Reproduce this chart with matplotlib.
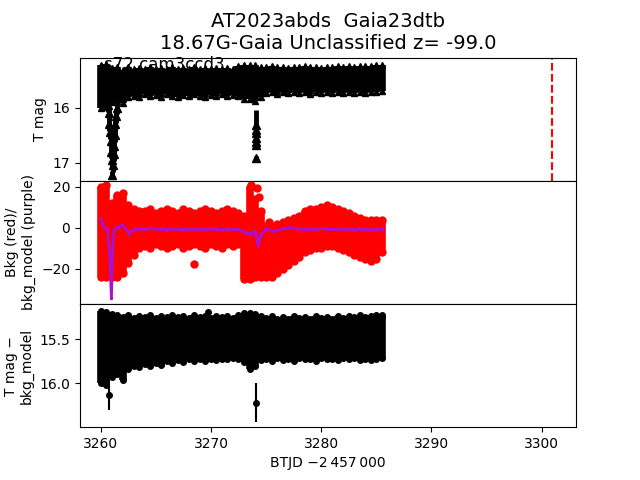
import matplotlib
matplotlib.use("Agg")
import matplotlib.pyplot as plt
import numpy as np

# ---- data ----
t_seg1 = [3260.0, 3260.5, 3261.0, 3261.5, 3262.0, 3262.5, 3263.0, 3263.5, 3264.0,
          3264.5, 3265.0, 3265.5, 3266.0, 3266.5, 3267.0, 3267.5, 3268.0, 3268.5,
          3269.0, 3269.5, 3270.0, 3270.5, 3271.0, 3271.5, 3272.0, 3272.5, 3273.0]
t_seg2 = [3273.5, 3274.0, 3274.5, 3275.0, 3275.5, 3276.0, 3276.5, 3277.0, 3277.5,
          3278.0, 3278.5, 3279.0, 3279.5, 3280.0, 3280.5, 3281.0, 3281.5, 3282.0,
          3282.5, 3283.0, 3283.5, 3284.0, 3284.5, 3285.0, 3285.5]

# top panel: T mag band (upper / lower envelope)
tmag_hi = [15.22, 15.21, 15.28, 15.27, 15.31, 15.27, 15.30, 15.28, 15.29, 15.27, 15.30, 15.28, 15.29,
           15.27, 15.30, 15.28, 15.29, 15.27, 15.30, 15.28, 15.29, 15.28, 15.30, 15.28, 15.29, 15.25, 15.22,
           15.22, 15.22, 15.26, 15.27, 15.25, 15.27, 15.26, 15.28, 15.26, 15.27, 15.25, 15.27, 15.26,
           15.28, 15.26, 15.27, 15.25, 15.26, 15.24, 15.26, 15.25, 15.24, 15.25, 15.23, 15.22]
tmag_lo = [16.00, 15.98, 15.90, 15.88, 15.92, 15.80, 15.78, 15.80, 15.76, 15.79, 15.77, 15.80, 15.76,
           15.78, 15.80, 15.77, 15.79, 15.76, 15.78, 15.80, 15.77, 15.78, 15.76, 15.79, 15.77, 15.78, 15.84,
           15.85, 15.88, 15.80, 15.74, 15.72, 15.75, 15.72, 15.74, 15.71, 15.73, 15.72, 15.75, 15.71,
           15.73, 15.72, 15.74, 15.71, 15.73, 15.72, 15.74, 15.72, 15.73, 15.71, 15.72, 15.70]
# faint points (dips)
dip_t = [3260.65, 3260.72, 3260.78, 3260.85, 3260.90, 3260.95, 3261.00, 3261.05,
         3261.10, 3261.16, 3261.22, 3261.28, 3261.34, 3261.40, 3261.46,
         3274.05, 3274.07, 3274.09, 3274.10, 3274.11, 3274.13, 3274.12]
dip_mag = [15.95, 16.10, 16.30, 16.45, 16.60, 16.80, 16.95, 17.22,
           17.05, 16.85, 16.70, 16.50, 16.30, 16.15, 16.00,
           16.32, 16.40, 16.47, 16.55, 16.62, 16.68, 16.92]
dip_err = [0.12, 0.12, 0.12, 0.12, 0.12, 0.12, 0.12, 0.06,
           0.12, 0.12, 0.12, 0.12, 0.12, 0.12, 0.12,
           0.27, 0.08, 0.08, 0.08, 0.06, 0.04, 0.04]

# middle panel: background (red) envelope and model (purple)
bkg_hi = [20, 21, 12, 16, 17, 11, 9, 8, 8, 9, 7, 8, 9, 8, 7, 9, 8, 7, 8, 9, 8, 7, 8, 9, 8, 7, 6,
          20, 14, 8, 1, 1, 2, 3, 4, 5, 6, 8, 9, 9, 10, 11, 10, 9, 8, 7, 6, 5, 4, 4, 4, 4]
bkg_lo = [-24, -24, -24, -24, -22, -17, -13, -10, -9, -10, -8, -9, -10, -9, -8, -10, -9, -8, -9,
          -10, -8, -9, -10, -8, -9, -8, -25,
          -25, -24, -24, -24, -24, -22, -20, -18, -16, -14, -12, -11, -10, -10, -9, -9, -10,
          -11, -12, -13, -14, -15, -16, -15, -12]
bkg_out_t = [3268.5, 3273.6, 3274.2, 3274.4, 3275.3]
bkg_out_v = [-17.7, 21.0, 19.5, 15.0, 3.0]

model_t = [3260.0, 3260.3, 3260.6, 3260.8, 3260.97, 3261.1, 3261.2, 3261.5, 3261.96, 3262.3,
           3262.6, 3263.1, 3263.5, 3264.0, 3264.5, 3265.0, 3265.5, 3266.0, 3266.5, 3267.0,
           3267.5, 3268.0, 3268.5, 3269.0, 3269.5, 3270.0, 3270.5, 3271.0, 3271.5, 3272.0,
           3272.5, 3273.0, 3273.3, 3273.6, 3274.0, 3274.3, 3274.5, 3275.0, 3275.6, 3276.2,
           3277.1, 3277.8, 3278.5, 3279.0, 3279.5, 3280.0, 3280.5, 3281.0, 3281.5, 3282.0,
           3282.5, 3283.0, 3283.5, 3284.0, 3284.5, 3285.0, 3285.6]
model_v = [4.2, 0.2, -0.6, -12.0, -34.0, -8.0, -1.2, 0.5, 1.3, -0.8,
           -2.8, -0.6, -0.4, -0.8, -0.3, -0.7, -0.5, -0.9, -0.4, -0.6,
           -0.9, -0.4, -0.7, -0.5, -0.8, -0.4, -0.6, -0.9, -0.5, -0.7,
           -0.8, -1.8, -2.4, -3.0, -1.7, -8.8, -3.5, -0.6, -1.7, -0.9,
           0.2, -0.4, -0.8, -0.5, -0.7, -0.3, -0.6, -0.8, -0.5, -0.7,
           -0.4, -0.9, -0.6, -0.8, -1.0, -0.7, -0.6]

# bottom panel: T mag - bkg_model envelope
diff_hi = [15.18, 15.19, 15.21, 15.22, 15.25, 15.23, 15.26, 15.24, 15.25, 15.23, 15.26, 15.24, 15.25,
           15.23, 15.25, 15.24, 15.26, 15.23, 15.25, 15.24, 15.26, 15.24, 15.25, 15.24, 15.26, 15.23, 15.20,
           15.20, 15.21, 15.24, 15.26, 15.24, 15.27, 15.25, 15.27, 15.24, 15.26, 15.25, 15.27, 15.24,
           15.26, 15.25, 15.27, 15.24, 15.26, 15.24, 15.25, 15.23, 15.25, 15.24, 15.23, 15.22]
diff_lo = [16.00, 16.02, 15.93, 15.90, 15.96, 15.84, 15.80, 15.82, 15.78, 15.80, 15.77, 15.79, 15.75,
           15.77, 15.74, 15.76, 15.73, 15.75, 15.73, 15.75, 15.72, 15.74, 15.72, 15.73, 15.71, 15.73, 15.76,
           15.84, 15.80, 15.74, 15.72, 15.75, 15.71, 15.74, 15.72, 15.75, 15.71, 15.73, 15.72, 15.75,
           15.71, 15.73, 15.72, 15.74, 15.71, 15.73, 15.71, 15.74, 15.72, 15.74, 15.72, 15.71]
diff_pt_t = [3260.75, 3274.09, 3269.7, 3285.55]
diff_pt_v = [16.13, 16.22, 15.19, 15.25]
diff_pt_e = [0.17, 0.22, 0.0, 0.0]

event_t = 3300.94
title = "AT2023abds  Gaia23dtb\n18.67G-Gaia Unclassified z= -99.0"
sector_text = "s72 cam3ccd3"

# ---- plot ----
t_all = np.array(t_seg1 + t_seg2)

fig, axes = plt.subplots(3, 1, sharex=True, figsize=(6.4, 4.8), dpi=100)
fig.subplots_adjust(hspace=0)
ax1, ax2, ax3 = axes

# top
hi = np.array(tmag_hi); lo = np.array(tmag_lo)
ax1.errorbar(t_all, (hi + lo) / 2, yerr=(lo - hi) / 2, fmt='none', ecolor='k', elinewidth=5.5)
ax1.plot(t_all, hi, 'k^', ms=5)
ax1.plot(t_all, lo, 'k^', ms=5)
ax1.errorbar(dip_t, dip_mag, yerr=dip_err, fmt='k^', ms=6, elinewidth=3.5)
ax1.axvline(event_t, color='r', ls='--', lw=1.5)
ax1.set_ylim(17.33, 15.09)
ax1.set_yticks([16, 17])
ax1.set_ylabel("T mag")
ax1.text(0.048, 0.90, sector_text, transform=ax1.transAxes, fontsize=12)
ax1.set_title(title, fontsize=14)

# middle
ax2.vlines(t_all, bkg_lo, bkg_hi, color='r', lw=5.5)
ax2.plot(t_all, bkg_hi, 'ro', ms=5)
ax2.plot(t_all, bkg_lo, 'ro', ms=5)
ax2.plot(bkg_out_t, bkg_out_v, 'ro', ms=5)
ax2.plot(model_t, model_v, '-', color='#aa11cc', lw=2, marker='.', ms=3)
ax2.set_ylim(-37.1, 22.9)
ax2.set_yticks([-20, 0, 20])
ax2.set_ylabel("Bkg (red)/\nbkg_model (purple)")

# bottom
hi = np.array(diff_hi); lo = np.array(diff_lo)
ax3.errorbar(t_all, (hi + lo) / 2, yerr=(lo - hi) / 2, fmt='none', ecolor='k', elinewidth=5.5)
ax3.plot(t_all, hi, 'ko', ms=4)
ax3.plot(t_all, lo, 'ko', ms=4)
ax3.errorbar(diff_pt_t, diff_pt_v, yerr=diff_pt_e, fmt='ko', ms=4, elinewidth=1.5)
ax3.set_ylim(16.5, 15.1)
ax3.set_yticks([15.5, 16.0])
ax3.set_ylabel("T mag \u2212\nbkg_model")
ax3.set_xlabel("BTJD \u22122\u2009457\u2009000")
ax3.set_xlim(3258.12, 3303.12)
ax3.set_xticks([3260, 3270, 3280, 3290, 3300])

fig.savefig("out.png", dpi=100)
